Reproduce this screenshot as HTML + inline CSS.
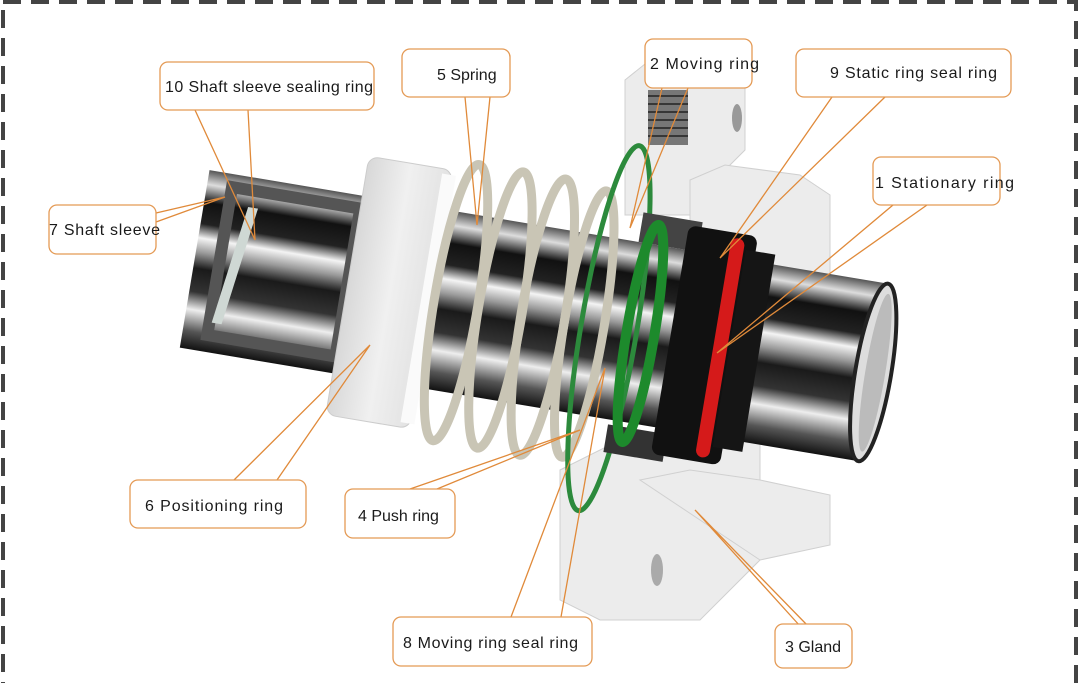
<!DOCTYPE html>
<html><head><meta charset="utf-8"><style>
html,body{margin:0;padding:0;background:#fff}
svg{display:block}
text{font-family:"Liberation Sans",sans-serif;font-size:16px;fill:#1a1a1a}
</style></head><body>
<svg width="1080" height="683" viewBox="0 0 1080 683" xmlns="http://www.w3.org/2000/svg">
<defs>
<linearGradient id="met" x1="0" y1="0" x2="0" y2="1">
<stop offset="0" stop-color="#555"/><stop offset="0.08" stop-color="#ddd"/><stop offset="0.18" stop-color="#111"/>
<stop offset="0.3" stop-color="#222"/><stop offset="0.38" stop-color="#f4f4f4"/><stop offset="0.46" stop-color="#999"/>
<stop offset="0.55" stop-color="#1a1a1a"/><stop offset="0.68" stop-color="#333"/><stop offset="0.78" stop-color="#eee"/>
<stop offset="0.9" stop-color="#555"/><stop offset="1" stop-color="#111"/>
</linearGradient>
<linearGradient id="wh" x1="0" y1="0" x2="1" y2="0">
<stop offset="0" stop-color="#d8d8d8"/><stop offset="0.5" stop-color="#f0f0f0"/><stop offset="1" stop-color="#e2e2e2"/>
</linearGradient>
</defs>
<rect x="3" y="2" width="1073" height="690" fill="none" stroke="#444" stroke-width="4" stroke-dasharray="18 10"/>

<g fill="#ececec" stroke="#d0d0d0" stroke-width="1">
<polygon points="625,80 650,60 720,60 745,75 745,150 720,175 720,215 625,215"/>
<polygon points="690,180 725,165 800,175 830,195 830,285 800,300 690,300"/>
<polygon points="560,470 620,440 760,440 760,560 700,620 600,620 560,600"/>
<polygon points="640,480 690,470 760,480 830,495 830,545 760,560 700,520"/>
</g>
<rect x="648" y="90" width="40" height="55" fill="#777"/>
<g stroke="#222" stroke-width="1.5"><line x1="648" y1="96" x2="688" y2="96"/><line x1="648" y1="104" x2="688" y2="104"/><line x1="648" y1="112" x2="688" y2="112"/><line x1="648" y1="120" x2="688" y2="120"/><line x1="648" y1="128" x2="688" y2="128"/><line x1="648" y1="136" x2="688" y2="136"/></g>
<ellipse cx="737" cy="118" rx="5" ry="14" fill="#999"/>
<ellipse cx="657" cy="570" rx="6" ry="16" fill="#aaa"/>

<g transform="rotate(9.5 530 315)">
<rect x="190" y="225" width="690" height="180" fill="url(#met)"/>
<ellipse cx="878" cy="315" rx="18" ry="90" fill="#ddd" stroke="#222" stroke-width="4"/>
<ellipse cx="880" cy="315" rx="10" ry="80" fill="#bbb"/>
<rect x="215" y="238" width="130" height="150" fill="none" stroke="#555" stroke-width="12"/>
<rect x="270" y="255" width="10" height="120" fill="#cfd8d4" transform="skewX(-8)"/>
<rect x="345" y="185" width="85" height="262" rx="10" fill="url(#wh)" stroke="#ccc"/>
<rect x="420" y="190" width="14" height="252" fill="#fafafa"/>
<g fill="none" stroke="#c9c5b5" stroke-width="9">
<ellipse cx="455" cy="315" rx="22" ry="140"/>
<ellipse cx="500" cy="315" rx="22" ry="140"/>
<ellipse cx="543" cy="315" rx="22" ry="140"/>
<ellipse cx="585" cy="315" rx="20" ry="135"/>
</g>
<ellipse cx="610" cy="315" rx="28" ry="185" fill="none" stroke="#2c8a3c" stroke-width="5"/>
<rect x="625" y="195" width="60" height="30" fill="#444"/>
<rect x="625" y="410" width="60" height="28" fill="#333"/>
<ellipse cx="642" cy="315" rx="14" ry="110" fill="none" stroke="#1d8a2c" stroke-width="10"/>
<rect x="672" y="200" width="70" height="232" rx="8" fill="#111"/>
<rect x="716" y="205" width="14" height="222" rx="7" fill="#d51a1a"/>
<rect x="732" y="215" width="30" height="200" fill="#151515"/>
</g>

<g stroke="#e08a3a" stroke-width="1.3" fill="none">
<polyline points="195,110 255,240 248,110"/>
<polyline points="465,97 477,225 490,97"/>
<polyline points="156,213 225,197 156,222"/>
<polyline points="662,88 630,228 688,88"/>
<polyline points="832,97 720,258 885,97"/>
<polyline points="893,205 717,353 927,205"/>
<polyline points="234,480 370,345 277,480"/>
<polyline points="410,489 580,430 437,489"/>
<polyline points="511,617 605,368 561,617"/>
<polyline points="800,626 695,510 808,626"/>
</g>
<g fill="#fff" stroke="#e49a55" stroke-width="1.3">
<rect x="160" y="62" width="214" height="48" rx="8"/>
<rect x="402" y="49" width="108" height="48" rx="8"/>
<rect x="49" y="205" width="107" height="49" rx="8"/>
<rect x="645" y="39" width="107" height="49" rx="8"/>
<rect x="796" y="49" width="215" height="48" rx="8"/>
<rect x="873" y="157" width="127" height="48" rx="8"/>
<rect x="130" y="480" width="176" height="48" rx="8"/>
<rect x="345" y="489" width="110" height="49" rx="8"/>
<rect x="393" y="617" width="199" height="49" rx="8"/>
<rect x="775" y="624" width="77" height="44" rx="8"/>
</g>
<text x="165" y="92" textLength="208">10 Shaft sleeve sealing ring</text>
<text x="437" y="80">5 Spring</text>
<text x="49" y="235" textLength="111">7 Shaft sleeve</text>
<text x="650" y="69" textLength="109">2  Moving ring</text>
<text x="830" y="78" textLength="167">9 Static ring seal ring</text>
<text x="875" y="188" textLength="139">1 Stationary ring</text>
<text x="145" y="511" textLength="138">6 Positioning ring</text>
<text x="358" y="521">4 Push ring</text>
<text x="403" y="648" textLength="175">8 Moving ring seal ring</text>
<text x="785" y="652">3 Gland</text>
</svg>
</body></html>
